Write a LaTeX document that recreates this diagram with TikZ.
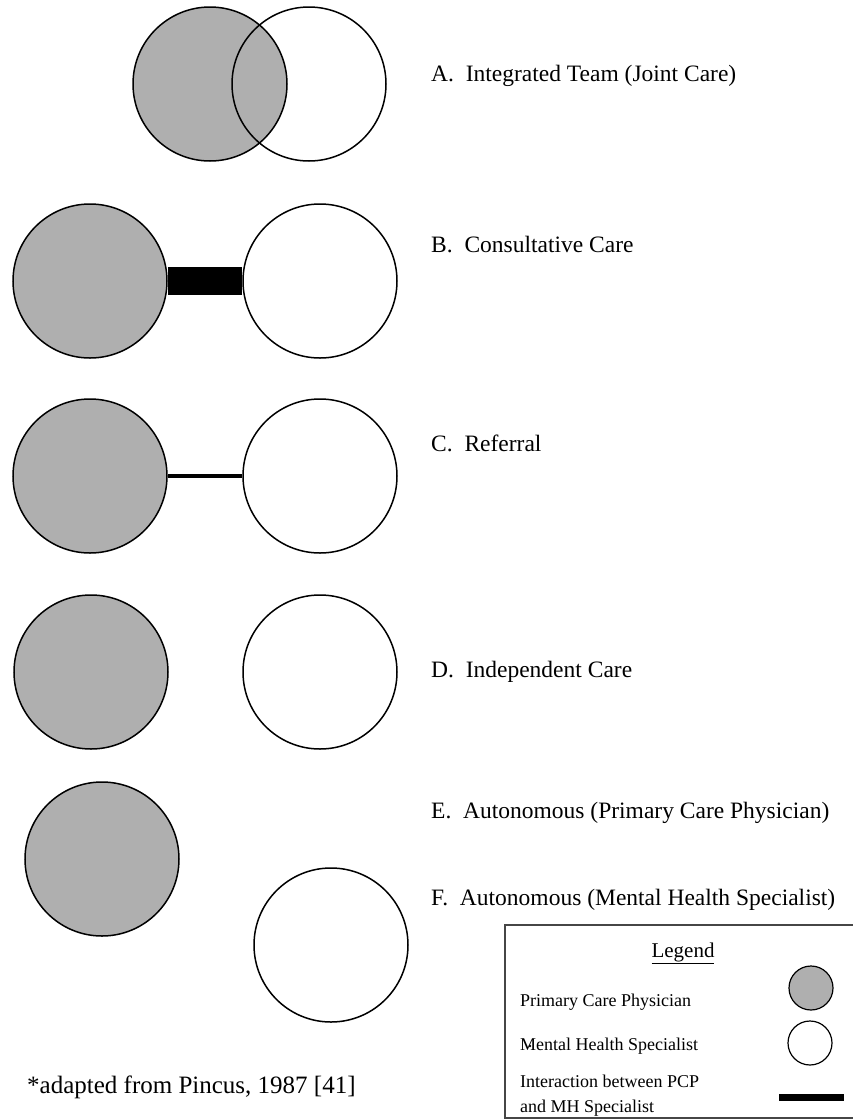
\documentclass[tikz,border=0pt]{standalone}
\usepackage{fontspec}
\setmainfont{Liberation Serif}
\definecolor{pcpgray}{RGB}{175,175,175}
\definecolor{boxline}{RGB}{70,70,70}
\begin{document}
\begin{tikzpicture}[x=1pt,y=-1pt,
  pcp/.style={circle,draw=black,line width=1.5pt,fill=pcpgray,inner sep=0pt,minimum size=154pt},
  mhs/.style={circle,draw=black,line width=1.5pt,fill=white,inner sep=0pt,minimum size=154pt},
  ring/.style={circle,draw=black,line width=1.5pt,inner sep=0pt,minimum size=154pt},
  smallpcp/.style={circle,draw=black,line width=1.2pt,fill=pcpgray,inner sep=0pt,minimum size=44pt},
  smallmhs/.style={circle,draw=black,line width=1.2pt,fill=white,inner sep=0pt,minimum size=44pt},
  caption/.style={anchor=base west,inner sep=0pt,font=\fontsize{23.5}{28}\selectfont},
  legtext/.style={anchor=base west,inner sep=0pt,font=\fontsize{18}{22}\selectfont},
  strong link/.style={line width=28pt},
  weak link/.style={line width=4.5pt},
  legend bar/.style={line width=7pt}]
\useasboundingbox (0,0) rectangle (853,1120);

% A. integrated team: overlapping circles
\node[pcp] (pcpA) at (210,84) {};
\node[ring] (mhsA) at (309,84) {};
\node[caption] (capA) at (431,81) {A.~~Integrated Team (Joint Care)};

% B. consultative care
\node[pcp] (pcpB) at (90,281) {};
\node[mhs] (mhsB) at (320,281) {};
\draw[strong link] (pcpB.east) -- (mhsB.west);
\node[caption] (capB) at (431,252) {B.~~Consultative Care};

% C. referral
\node[pcp] (pcpC) at (90,476) {};
\node[mhs] (mhsC) at (320,476) {};
\draw[weak link] (pcpC.east) -- (mhsC.west);
\node[caption] (capC) at (431,451) {C.~~Referral};

% D. independent care
\node[pcp] (pcpD) at (91,672) {};
\node[mhs] (mhsD) at (320,672) {};
\node[caption] (capD) at (431,677) {D.~~Independent Care};

% E. and F. autonomous
\node[pcp] (pcpE) at (102,859) {};
\node[mhs] (mhsF) at (331,945) {};
\node[caption] (capE) at (431,818) {E.~~Autonomous (Primary Care Physician)};
\node[caption] (capF) at (431,905) {F.~~Autonomous (Mental Health Specialist)};

% source note
\node[anchor=base west,inner sep=0pt,font=\fontsize{25}{30}\selectfont] (note) at (27,1093) {*adapted from Pincus, 1987 [41]};

% stray dot
\fill (530,1046) circle (1.3pt);

% legend box
\draw[boxline,line width=1.3pt] (505,925) rectangle (862,1118);
\node[anchor=base,inner sep=0pt,font=\fontsize{21}{25}\selectfont] (legtitle) at (683,957) {\underline{Legend}};
\node[legtext] (legpcp) at (520,1006) {Primary Care Physician};
\node[smallpcp] (symPCP) at (811,988) {};
\node[legtext] (legmhs) at (520,1050) {Mental Health Specialist};
\node[smallmhs] (symMHS) at (810,1043) {};
\node[legtext,align=left,anchor=north west] (legint) at (520,1075) {Interaction between PCP\\[3pt]and MH Specialist};
\coordinate (barL) at (779,1097.5);
\coordinate (barR) at (844,1097.5);
\draw[legend bar] (barL) -- (barR);
\end{tikzpicture}
\end{document}
